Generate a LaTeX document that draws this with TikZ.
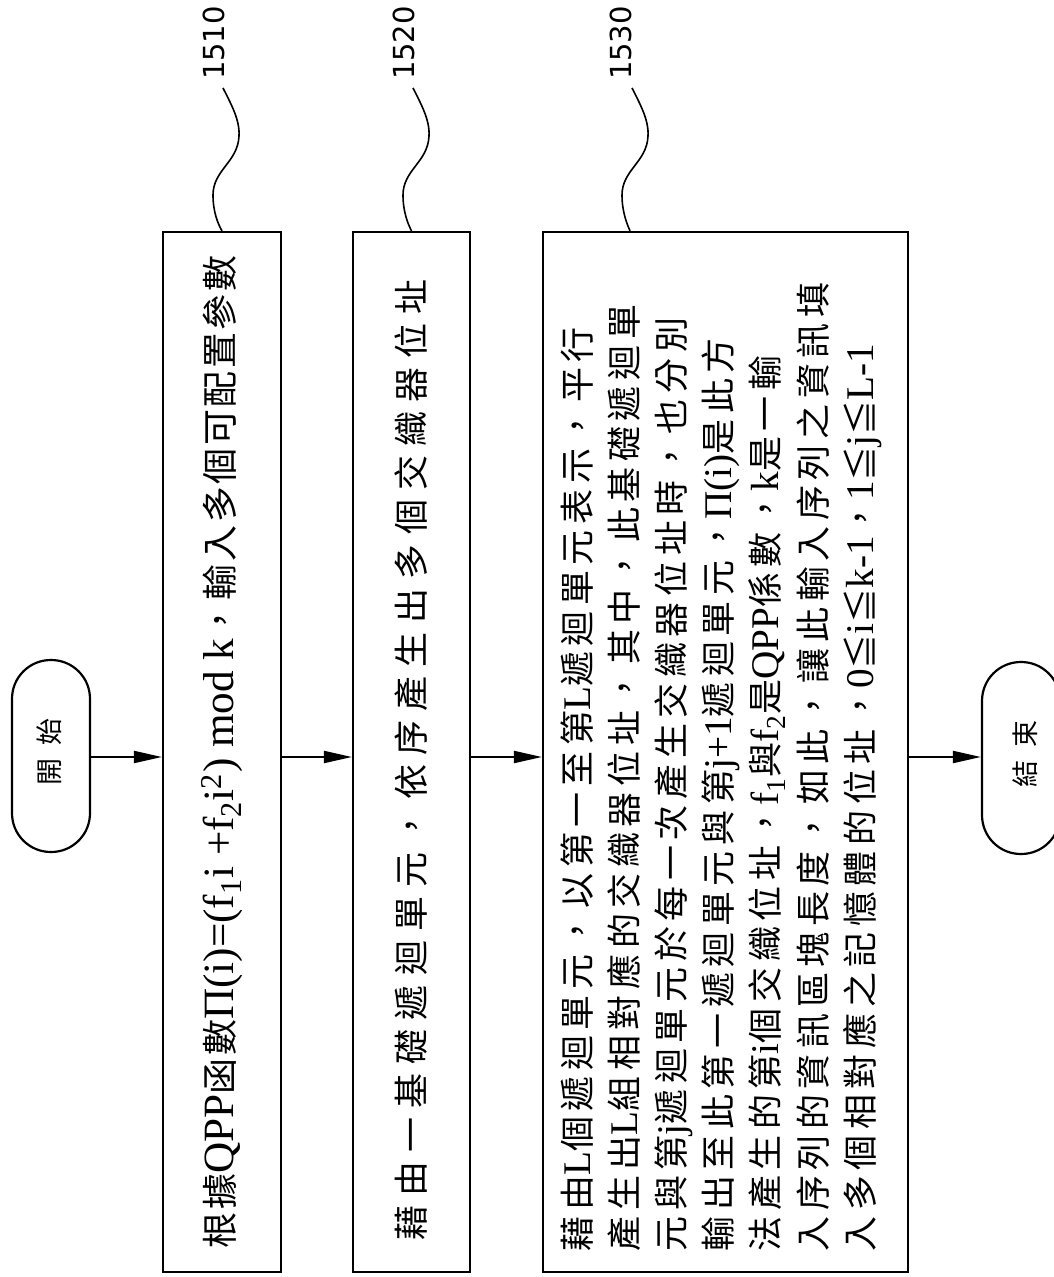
\documentclass[tikz,border=0pt]{standalone}
\usepackage{fontspec}
\setmainfont{Liberation Serif}
\newfontfamily\cjkA[LetterSpace=7]{Noto Sans CJK TC}
\newfontfamily\cjkB[LetterSpace=26]{Noto Sans CJK TC}
\newfontfamily\cjkC[LetterSpace=16]{Noto Sans CJK TC}
\newfontfamily\cjkS[LetterSpace=45]{Noto Sans CJK TC}
\newfontfamily\latA[Scale=1.2]{Liberation Serif}
\newfontfamily\latC[Scale=1.12]{Liberation Serif}
\newfontfamily\digf{DejaVu Sans}
\newcommand\LA[1]{{\latA #1}}
\newcommand\LC[1]{{\latC #1}}
\usetikzlibrary{arrows.meta}
\begin{document}
\begin{tikzpicture}[x=0.5pt,y=-0.5pt,
  box/.style={draw, line width=1.1pt, inner sep=0pt},
  term/.style={draw, line width=1.1pt, rounded corners=19.4pt, minimum width=39pt, minimum height=96pt, inner sep=0pt},
  flow/.style={line width=1pt, -{Triangle[length=14pt,width=6pt]}},
  leader/.style={line width=0.8pt},
  lbl/.style={font=\digf\fontsize{14.5}{14.5}\selectfont, rotate=90, inner sep=0pt},
  txt/.style={rotate=90, inner sep=0pt, align=left}]
\useasboundingbox (0,0) rectangle (1053,1277);

% frames
\node[term] (start) at (51,756) {};
\node[box, minimum width=59pt, minimum height=520pt] (b1) at (222,752) {};
\node[box, minimum width=58.5pt, minimum height=520pt] (b2) at (411.5,752) {};
\node[box, minimum width=182.5pt, minimum height=520pt] (b3) at (725.5,752) {};
\node[term] (end) at (1021,758) {};

% texts
\node[txt, font=\cjkS\fontsize{13.5}{13.5}\selectfont] (tstart) at (49,752) {開始};
\node[txt, font=\cjkS\fontsize{13.5}{13.5}\selectfont] (tend) at (1025,754) {結束};
\node[txt, font=\cjkA\fontsize{18}{20}\selectfont] (t1) at (222,752)
  {根據\LA{QPP}函數\LA{Π(i)=(f\textsubscript{1}i +f\textsubscript{2}i\textsuperscript{2}) mod k}，輸入多個可配置參數};
\node[txt, font=\cjkB\fontsize{17.5}{20}\selectfont] (t2) at (411.5,760)
  {藉由一基礎遞迴單元，依序產生出多個交織器位址};
\node[txt, font=\cjkC\fontsize{17.5}{23.6}\selectfont] (t3) at (721,767)
  {藉由\LC{L}個遞迴單元，以第一至第\LC{L}遞迴單元表示，平行\\
   產生出\LC{L}組相對應的交織器位址，其中，此基礎遞迴單\\
   元與第\LC{j}遞迴單元於每一次產生交織器位址時，也分別\\
   輸出至此第一遞迴單元與第\LC{j+1}遞迴單元，\LC{Π(i)}是此方\\
   法產生的第\LC{i}個交織位址，\LC{f\textsubscript{1}}與\LC{f\textsubscript{2}}是\LC{QPP}係數，\LC{k}是一輸\\
   入序列的資訊區塊長度，如此，讓此輸入序列之資訊填\\
   入多個相對應之記憶體的位址，\LC{0}≦\LC{i}≦\LC{k-1}，\LC{1}≦\LC{j}≦\LC{L-1}};

% labels
\node[lbl] (l1510) at (214,43) {1510};
\node[lbl] (l1520) at (404,43) {1520};
\node[lbl] (l1530) at (621,43) {1530};

% flow arrows
\coordinate (ay) at (0,757);
\draw[flow] (start.east |- ay) -- (b1.west |- ay);
\draw[flow] (b1.east |- ay) -- (b2.west |- ay);
\draw[flow] (b2.east |- ay) -- (b3.west |- ay);
\draw[flow] (b3.east |- ay) -- (end.west |- ay);

% leaders
\coordinate (s1) at (223,88);
\coordinate (s2) at (413,88);
\coordinate (s3) at (632,88);
\coordinate (e3) at (b3.north -| 630,0);
\draw[leader] (s1) .. controls (231,104) and (240,120) .. (239,136)
  .. controls (238,162) and (213,170) .. (213,195)
  .. controls (213,212) and (218,224) .. (b1.north);
\draw[leader] (s2) .. controls (421,104) and (430,120) .. (429,136)
  .. controls (428,162) and (403,170) .. (403,195)
  .. controls (403,212) and (408,224) .. (b2.north);
\draw[leader] (s3) .. controls (640,104) and (649,120) .. (648,136)
  .. controls (647,162) and (622,170) .. (622,195)
  .. controls (622,212) and (627,224) .. (e3);
\end{tikzpicture}
\end{document}
